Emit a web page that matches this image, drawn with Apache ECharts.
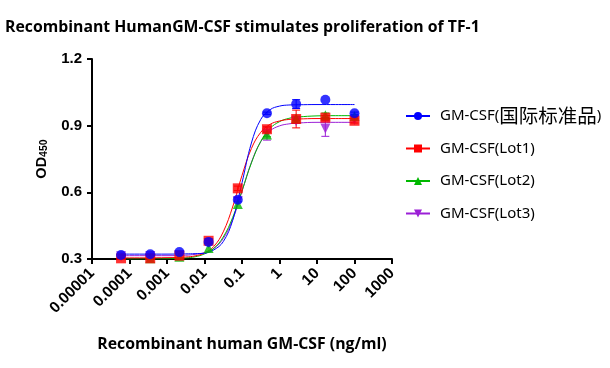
<!DOCTYPE html>
<html><head><meta charset="utf-8">
<script src="https://cdn.jsdelivr.net/npm/echarts@6/dist/echarts.min.js"></script>
<style>html,body{margin:0;padding:0;background:#fff}#c{width:610px;height:368px}</style>
</head><body><div id="c"></div>
<script>
// Doses (ng/ml), 6-fold dilutions
const doses = [0.0000595, 0.000357, 0.00214, 0.01286, 0.0772, 0.463, 2.78, 16.7, 100];
const seriesNames = ['GM-CSF(国际标准品)', 'GM-CSF(Lot1)', 'GM-CSF(Lot2)', 'GM-CSF(Lot3)'];
// Mean OD450
const stdMean  = [0.318, 0.321, 0.331, 0.377, 0.567, 0.956, 0.997, 1.017, 0.956];
const lot1Mean = [0.303, 0.303, 0.315, 0.382, 0.618, 0.884, 0.930, 0.936, 0.922];
const lot2Mean = [0.299, 0.303, 0.310, 0.350, 0.548, 0.860, 0.933, 0.947, 0.944];
const lot3Mean = [0.312, 0.314, 0.318, 0.370, 0.560, 0.865, 0.920, 0.887, 0.925];
// Error (SD)
const stdErr  = [0, 0, 0, 0.005, 0.01, 0.005, 0.02, 0, 0.005];
const lot1Err = [0.005, 0, 0, 0.01, 0.01, 0.01, 0.04, 0.01, 0.01];
const lot2Err = [0, 0, 0, 0, 0, 0.01, 0.01, 0.01, 0];
const lot3Err = [0, 0, 0, 0, 0, 0.03, 0.01, 0.035, 0];
// Fitted curves
const curveX = [0.0000593, 0.0001, 0.001, 0.00316, 0.00562, 0.01, 0.0178, 0.0316, 0.0562, 0.1, 0.178, 0.316, 0.562, 1, 1.78, 3.16, 10, 31.6, 100];
const stdCurve  = [0.322, 0.322, 0.322, 0.323, 0.324, 0.326, 0.341, 0.378, 0.473, 0.643, 0.822, 0.928, 0.972, 0.988, 0.993, 0.994, 0.995, 0.995, 0.995];
const lot1Curve = [0.305, 0.305, 0.306, 0.309, 0.314, 0.327, 0.357, 0.422, 0.534, 0.676, 0.797, 0.870, 0.906, 0.921, 0.928, 0.930, 0.932, 0.932, 0.932];
const lot2Curve = [0.300, 0.300, 0.301, 0.305, 0.310, 0.323, 0.348, 0.399, 0.486, 0.607, 0.732, 0.829, 0.888, 0.918, 0.933, 0.939, 0.944, 0.945, 0.945];
const lot3Curve = [0.315, 0.315, 0.315, 0.317, 0.321, 0.329, 0.348, 0.392, 0.477, 0.604, 0.735, 0.828, 0.877, 0.899, 0.908, 0.912, 0.915, 0.915, 0.915];
const xTickLabels = ['0.00001', '0.0001', '0.001', '0.01', '0.1', '1', '10', '100', '1000'];
const yTicks = [0.3, 0.6, 0.9, 1.2];

const colors = ['#0000ff', '#ff0000', '#00b800', '#9b1fd6'];
const symbols = ['circle', 'rect', 'triangle', 'triangle'];
const symRot = [0, 0, 0, 180];
const symSizes = [10, 10, 10, 10];
const means = [stdMean, lot1Mean, lot2Mean, lot3Mean];
const errs = [stdErr, lot1Err, lot2Err, lot3Err];
const curves = [stdCurve, lot1Curve, lot2Curve, lot3Curve];

const chart = echarts.init(document.getElementById('c'));
const series = [];
const order = [3, 2, 1, 0];
order.forEach(i => {
  series.push({
    name: seriesNames[i], type: 'line', smooth: 0.4, showSymbol: false,
    symbol: symbols[i], symbolRotate: symRot[i], symbolSize: 9,
    data: curveX.map((x, k) => [x, curves[i][k]]),
    lineStyle: {color: colors[i], width: 1}, itemStyle: {color: colors[i]},
    z: 2, silent: true, animation: false
  });
});
order.forEach(i => {
  series.push({
    name: seriesNames[i], type: 'custom',
    data: doses.map((x, k) => [x, means[i][k] - errs[i][k], means[i][k] + errs[i][k]]),
    renderItem: function (params, api) {
      const lo = api.coord([api.value(0), api.value(1)]);
      const hi = api.coord([api.value(0), api.value(2)]);
      if (Math.abs(hi[1] - lo[1]) < 1) return null;
      const w = 4;
      const st = {stroke: colors[i], lineWidth: 1};
      return {type: 'group', children: [
        {type: 'line', shape: {x1: lo[0], y1: lo[1], x2: hi[0], y2: hi[1]}, style: st},
        {type: 'line', shape: {x1: lo[0] - w, y1: lo[1], x2: lo[0] + w, y2: lo[1]}, style: st},
        {type: 'line', shape: {x1: hi[0] - w, y1: hi[1], x2: hi[0] + w, y2: hi[1]}, style: st}
      ]};
    },
    z: 3, silent: true, animation: false
  });
});
order.forEach(i => {
  series.push({
    name: seriesNames[i], type: 'scatter',
    symbol: symbols[i], symbolRotate: symRot[i], symbolSize: symSizes[i],
    data: doses.map((x, k) => [x, means[i][k]]),
    itemStyle: {color: colors[i]}, z: 4, animation: false
  });
});

chart.setOption({
  animation: false,
  title: {
    text: 'Recombinant HumanGM-CSF stimulates proliferation of TF-1',
    left: 0, top: 14,
    textStyle: {fontFamily: 'Open Sans', fontWeight: 'bold', fontSize: 15.8, color: '#000'}
  },
  legend: {
    data: seriesNames.map(n => ({name: n})),
    orient: 'vertical', left: 400, top: 101, width: 210, itemGap: 12.5,
    itemWidth: 24, itemHeight: 10,
    formatter: function (name) {
      const m = name.match(/^(GM-CSF\()([^\x00-\x7f]+)(\))$/);
      return m ? m[1] + '{c|' + m[2] + '}' + m[3] : name;
    },
    textStyle: {
      fontFamily: 'Noto Sans', fontSize: 15, lineHeight: 20, color: '#000', padding: [0, 0, 0, 5],
      rich: {c: {fontFamily: 'Noto Sans CJK SC', fontSize: 19.5, lineHeight: 20, color: '#000'}}
    },
    selectedMode: false
  },
  grid: {left: 92, right: 218, top: 59, bottom: 109, containLabel: false},
  xAxis: {
    type: 'log', logBase: 10, min: 0.00001, max: 1000,
    name: 'Recombinant human GM-CSF (ng/ml)', nameLocation: 'middle', nameGap: 77,
    nameTextStyle: {fontFamily: 'Open Sans', fontWeight: 'bold', fontSize: 15.8, color: '#000'},
    axisLine: {lineStyle: {color: '#000', width: 2}},
    axisTick: {show: true, length: 5, lineStyle: {color: '#000', width: 2}},
    minorTick: {show: false},
    splitLine: {show: false},
    axisLabel: {
      rotate: 45, color: '#000', fontFamily: 'Liberation Sans', fontWeight: 'bold', fontSize: 15.5, margin: 12,
      formatter: v => xTickLabels[Math.round(Math.log10(v)) + 5]
    }
  },
  yAxis: {
    type: 'value', min: 0.3, max: 1.2, interval: 0.3,
    name: '{a|OD}{b|450}', nameLocation: 'middle', nameGap: 42, nameRotate: 90,
    nameTextStyle: {
      rich: {
        a: {fontFamily: 'Liberation Sans', fontWeight: 'bold', fontSize: 14.5, color: '#000'},
        b: {fontFamily: 'Liberation Sans', fontWeight: 'bold', fontSize: 10.5, color: '#000', verticalAlign: 'bottom', padding: [6, 0, 0, 0]}
      }
    },
    axisLine: {show: true, lineStyle: {color: '#000', width: 2}},
    axisTick: {show: true, length: 5, lineStyle: {color: '#000', width: 2}},
    splitLine: {show: false},
    axisLabel: {
      color: '#000', fontFamily: 'Liberation Sans', fontWeight: 'bold', fontSize: 15, margin: 10,
      formatter: v => yTicks.find(t => Math.abs(t - v) < 1e-6).toFixed(1)
    }
  },
  series: series
});
</script></body></html>
